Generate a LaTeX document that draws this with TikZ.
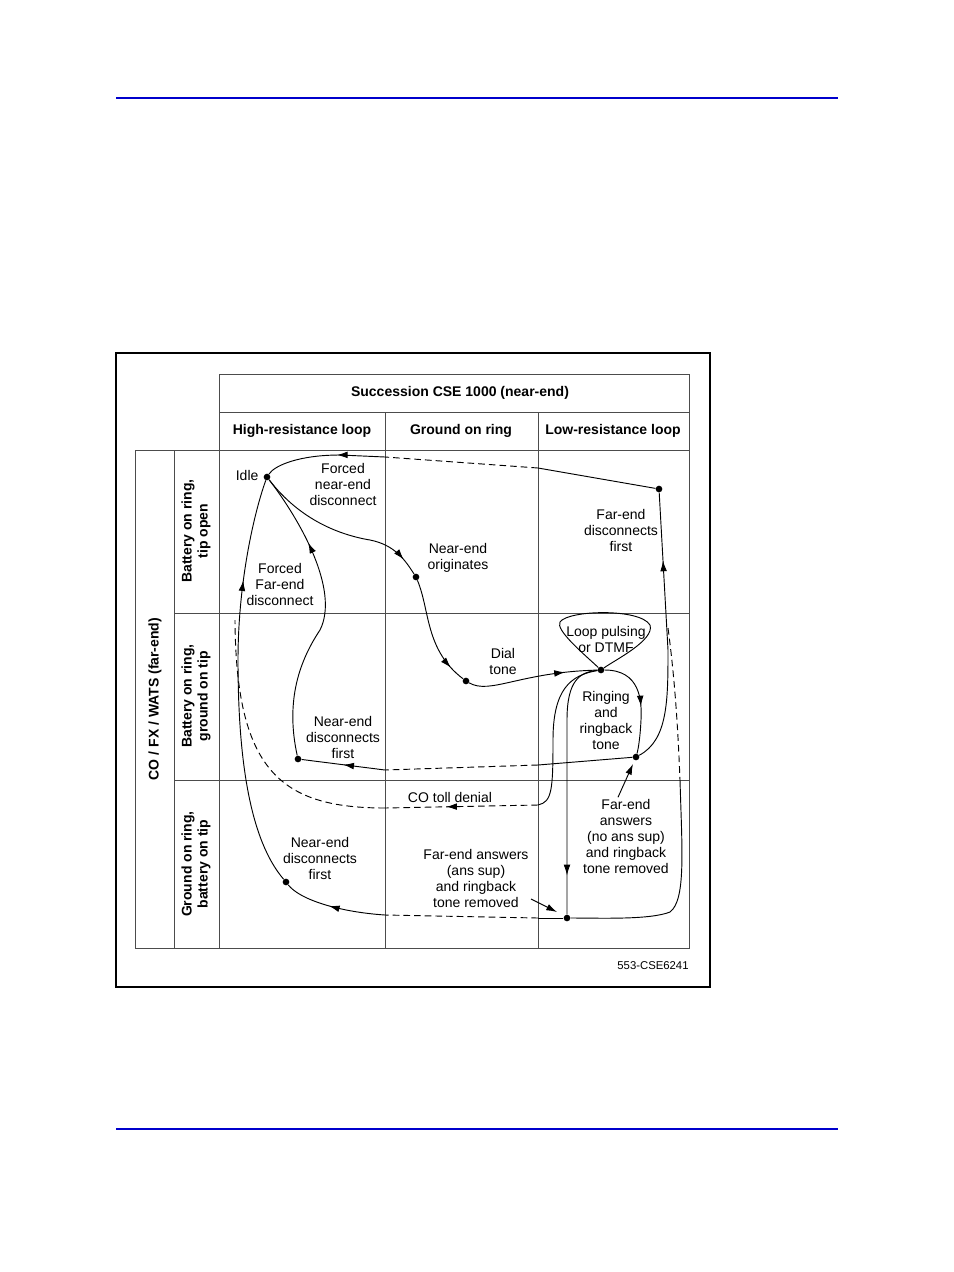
\documentclass[tikz,border=0pt]{standalone}
\usepackage{fontspec}
\setmainfont{Liberation Sans}
\usetikzlibrary{arrows.meta,decorations.markings}
\begin{document}
\begin{tikzpicture}[x=0.75pt,y=-0.75pt,
  every node/.style={font=\fontsize{10.5}{12}\selectfont, align=center, inner sep=1pt},
  hdr/.style={font=\bfseries\fontsize{10.5}{12}\selectfont},
  grid/.style={draw=black!70, line width=0.6pt},
  dot/.style={circle, fill=black, inner sep=0pt, minimum size=5pt},
  flow/.style={line width=0.7pt},
  dsh/.style={line width=0.7pt, dash pattern=on 5pt off 3pt},
  arr/.style={postaction={decorate}, decoration={markings, mark=at position #1 with {\arrow{Latex[length=8pt,width=5pt]}}}},
  tip/.style={-{Latex[length=8pt,width=5pt]}, line width=0.7pt}]
\useasboundingbox (0,0) rectangle (954,1272);
\draw[blue!80!black, line width=2.2pt] (116,98) -- (838,98);
\draw[blue!80!black, line width=2.2pt] (116,1129) -- (838,1129);
\draw[line width=0.9pt] (116,353) rectangle (710,987);
% table
\draw[grid] (219,374) rectangle (689,948);
\draw[grid] (219,412) -- (689,412);
\draw[grid] (135,450) rectangle (689,948);
\draw[grid] (174,450) -- (174,948);
\draw[grid] (385,412) -- (385,948);
\draw[grid] (538,412) -- (538,948);
\draw[grid] (174,613) -- (689,613);
\draw[grid] (174,780) -- (689,780);
\node[hdr] (title) at (460,393) {Succession CSE 1000 (near-end)};
\node[hdr] (c1) at (302,431) {High-resistance loop};
\node[hdr] (c2) at (461,431) {Ground on ring};
\node[hdr] (c3) at (613,431) {Low-resistance loop};
\node[hdr, rotate=90] (far) at (155,699) {CO / FX / WATS (far-end)};
\node[hdr, rotate=90] (r1) at (196,531) {Battery on ring,\\tip open};
\node[hdr, rotate=90] (r2) at (196,696) {Battery on ring,\\ground on tip};
\node[hdr, rotate=90] (r3) at (196,864) {Ground on ring,\\battery on tip};
\node (code) at (653,966) {\fontsize{8.5}{10}\selectfont 553-CSE6241};
% dots
\node[dot] (idle) at (267,477) {};
\node[dot] (fe) at (659,489) {};
\node[dot] (orig) at (416,577) {};
\node[dot] (dial) at (466,681) {};
\node[dot] (hub) at (601,670) {};
\node[dot] (ring) at (636,757) {};
\node[dot] (ned) at (298,759) {};
\node[dot] (bot) at (567,918) {};
\node[dot] (ned2) at (286,882) {};
\coordinate (tollA) at (385,808);
\coordinate (tollB) at (538,805);
% labels
\node[anchor=east] (lidle) at (260,475) {Idle};
\node (lfnd) at (343,484) {Forced\\near-end\\disconnect};
\node (lfed) at (621,530) {Far-end\\disconnects\\first};
\node (lno) at (458,558) {Near-end\\originates};
\node (lffd) at (280,584) {Forced\\Far-end\\disconnect};
\node (ldt) at (503,661) {Dial\\tone};
\node[draw=none] (lloop) at (606,639) {Loop pulsing\\or DTMF};
\node (lring) at (606,720) {Ringing\\and\\ringback\\tone};
\node (lned) at (343,737) {Near-end\\disconnects\\first};
\node (ltoll) at (450,797) {CO toll denial};
\node (lnas) at (626,836) {Far-end\\answers\\(no ans sup)\\and ringback\\tone removed};
\node (lned2) at (320,858) {Near-end\\disconnects\\first};
\node (las) at (476,878) {Far-end answers\\(ans sup)\\and ringback\\tone removed};
% flows
\draw[flow] (fe) -- (538,468);
\draw[dsh] (538,468) -- (385,457);
\draw[flow, arr=0.4] (385,457) -- (340,455) .. controls (300,455) and (275,465) .. (idle);
\draw[flow, arr=0.9] (idle) .. controls (300,520) and (340,535) .. (370,540) .. controls (395,545) and (405,560) .. (orig);
\draw[flow, arr=0.85] (orig) .. controls (430,610) and (425,650) .. (dial);
\draw[flow, arr=0.75] (dial) .. controls (490,695) and (520,672) .. (hub);
\draw[flow] (hub) .. controls (585,655) and (555,630) .. (560,622) .. controls (568,610) and (640,608) .. (650,625) .. controls (655,640) and (615,660) .. (hub);
\draw[flow, arr=0.55] (hub) .. controls (640,670) and (642,700) .. (641,720) .. controls (640,740) and (638,750) .. (ring);
\draw[flow, arr=0.75] (ring) .. controls (668,740) and (668,700) .. (668,650) -- (fe);
\draw[flow] (ring) -- (538,765);
\draw[dsh] (538,765) -- (385,770);
\draw[flow, arr=0.5] (385,770) -- (ned);
\draw[flow, arr=0.75] (ned) .. controls (285,700) and (300,660) .. (320,630) .. controls (340,590) and (300,520) .. (idle);
\draw[flow] (bot) -- (538,918);
\draw[dsh] (538,918) -- (385,915);
\draw[flow, arr=0.55] (385,915) .. controls (340,912) and (300,900) .. (ned2);
\draw[flow, arr=0.75] (ned2) .. controls (250,840) and (238,760) .. (238,660) .. controls (238,580) and (255,510) .. (idle);
\draw[flow, arr=0.85] (hub) .. controls (580,672) and (567,680) .. (567,720) -- (bot);
\draw[flow] (hub) .. controls (570,675) and (553,690) .. (553,740) .. controls (553,790) and (552,802) .. (tollB);
\draw[dsh, arr=0.6] (tollB) -- (tollA);
\draw[dsh] (tollA) .. controls (280,808) and (236,770) .. (235,620);
\draw[dsh] (668,628) .. controls (675,680) and (678,730) .. (680,780);
\draw[flow] (680,780) .. controls (682,850) and (686,900) .. (670,912) .. controls (650,920) and (600,918) .. (bot);
\draw[tip] (lnas.north) ++(-8,0) coordinate (nasA) -- (633,764);
\draw[tip] (531,899) -- (557,912);
\end{tikzpicture}
\end{document}
